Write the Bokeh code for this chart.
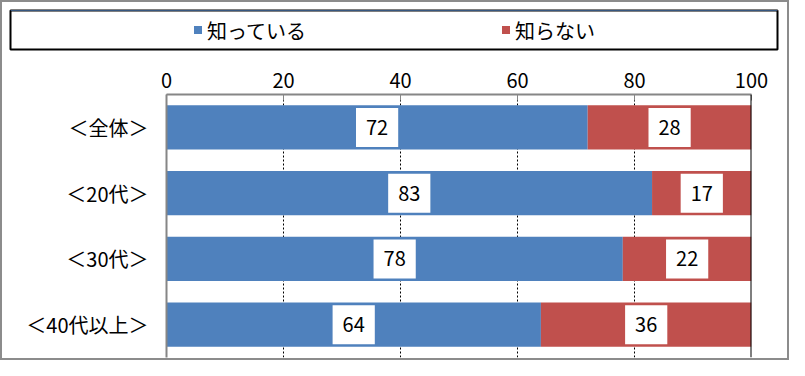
from bokeh.plotting import figure
from bokeh.models import (ColumnDataSource, FactorRange, Range1d, Legend, LegendItem, Span,
                          FixedTicker, Spacer)
from bokeh.layouts import column, row
from bokeh.core.properties import value
from bokeh.embed import file_html
from bokeh.resources import INLINE

# ---- data ----
categories = ["＜全体＞", "＜20代＞", "＜30代＞", "＜40代以上＞"]
know = [72, 83, 78, 64]
not_know = [28, 17, 22, 36]
series_names = ["知っている", "知らない"]
x_ticks = [0, 20, 40, 60, 80, 100]

FONT = "Noto Sans CJK JP"
BLUE = "#4F81BD"
RED = "#C0504D"
AXIS_GRAY = "#868686"
FS = "20px"

src = ColumnDataSource(dict(
    cat=categories,
    know=know,
    not_know=not_know,
    total=[a + b for a, b in zip(know, not_know)],
    mid1=[a / 2 for a in know],
    mid2=[a + b / 2 for a, b in zip(know, not_know)],
    lab1=[str(a) for a in know],
    lab2=[str(b) for b in not_know],
))

# ---- legend figure: its frame outline is the legend box ----
lf = figure(width=771, height=43, x_range=(0, 1), y_range=(0, 1),
            x_axis_type=None, y_axis_type=None,
            min_border_left=2, min_border_right=2, min_border_top=2, min_border_bottom=2,
            toolbar_location=None, output_backend="svg")
lf.grid.visible = False
lf.outline_line_color = "black"
lf.outline_line_width = 2
# legend-only renderers: their data lies outside the legend figure's view
r1 = lf.hbar(y="know", left=0, right="know", height=1, source=src, fill_color=BLUE, line_color=None)
r2 = lf.hbar(y="total", left="know", right="total", height=1, source=src, fill_color=RED, line_color=None)
leg = Legend(items=[LegendItem(label=series_names[0], renderers=[r1]),
                    LegendItem(label=series_names[1], renderers=[r2])],
             orientation="horizontal", location="center",
             border_line_color=None, background_fill_alpha=0,
             spacing=194, glyph_width=10, glyph_height=10, label_standoff=5,
             padding=0, margin=0,
             label_text_font=FONT, label_text_font_size=FS, label_text_color="black")
lf.add_layout(leg)

# ---- main figure ----
p = figure(width=785, height=307,
           y_range=FactorRange(factors=categories[::-1]),
           x_range=Range1d(0, 100),
           x_axis_location="above",
           min_border_left=164, min_border_right=36, min_border_top=43, min_border_bottom=1,
           toolbar_location=None, output_backend="svg")
p.outline_line_color = None

p.hbar(y="cat", left=0, right="know", height=0.67, source=src,
       fill_color=BLUE, line_color=None)
p.hbar(y="cat", left="know", right="total", height=0.67, source=src,
       fill_color=RED, line_color=None)

for xcol, tcol in (("mid1", "lab1"), ("mid2", "lab2")):
    p.text(x=xcol, y="cat", text=tcol, source=src,
           text_align="center", text_baseline="middle",
           text_font=value(FONT), text_font_size=FS, text_color="black",
           background_fill_color="white",
           padding=dict(left=10, right=10, top=12, bottom=12))

# x axis (top)
xa = p.xaxis[0]
xa.ticker = FixedTicker(ticks=x_ticks)
xa.axis_line_color = AXIS_GRAY
xa.axis_line_width = 2
xa.major_tick_line_color = AXIS_GRAY
xa.major_tick_line_width = 1
xa.major_tick_in = 6
xa.major_tick_out = 0
xa.minor_tick_line_color = None
xa.major_label_text_font = FONT
xa.major_label_text_font_size = FS
xa.major_label_text_color = "black"
xa.major_label_standoff = 7

# y axis (left)
ya = p.yaxis[0]
ya.axis_line_color = AXIS_GRAY
ya.axis_line_width = 2
ya.major_tick_line_color = None
ya.minor_tick_line_color = None
ya.major_label_text_font = FONT
ya.major_label_text_font_size = FS
ya.major_label_text_color = "black"
ya.major_label_standoff = 12

# grid
p.ygrid.visible = False
p.xgrid.ticker = FixedTicker(ticks=x_ticks[1:-1])
p.xgrid.grid_line_color = "black"
p.xgrid.grid_line_width = 1
p.xgrid.grid_line_dash = "2 2"
p.add_layout(Span(location=x_ticks[-1], dimension="height", line_color="black", line_width=2))

layout = column(Spacer(width=785, height=6),
                row(Spacer(width=6, height=43), lf, spacing=0),
                p, spacing=0,
                styles={"border": "2px solid #8c8c8c"})

open("out.html", "w").write(file_html(layout, INLINE))
